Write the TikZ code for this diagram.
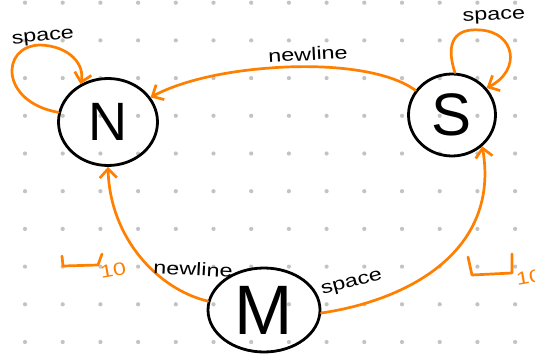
\documentclass[tikz,border=0pt]{standalone}
\usepackage{fontspec}
\setmainfont{Liberation Sans}
\newfontfamily\hand[FakeStretch=1.3]{Liberation Sans}
\usetikzlibrary{shapes.geometric,arrows.meta}
\definecolor{orng}{RGB}{255,128,0}
\definecolor{dotgray}{RGB}{195,195,195}
\begin{document}
\begin{tikzpicture}[x=1pt,y=-1pt,
  state/.style={draw=black, line width=2.8pt, ellipse, inner sep=0pt},
  edge/.style={draw=orng, line width=2.7pt, line cap=round, line join=round,
    -{Straight Barb[length=9pt,width=17pt]}},
  lbl/.style={font=\hand\fontsize{18}{18}\selectfont, inner sep=1pt},
  tick/.style={draw=orng, line width=2.7pt, line cap=round, line join=round},
  ticklbl/.style={text=orng, font=\hand\fontsize{18}{18}\selectfont, inner sep=0pt}]
\useasboundingbox (0,0) rectangle (535,358);
\fill[white] (0,0) rectangle (535,358);
% dot grid
\foreach \i in {0,...,13}
  \foreach \j in {0,...,9}
    \fill[dotgray] ({25+37.7*\i},{2.7+37.7*\j}) circle (2.1pt);
% states
\node[state, minimum width=99pt, minimum height=87pt] (N) at (108,122)
  {\fontsize{54}{54}\selectfont N};
\node[state, minimum width=87pt, minimum height=82pt] (S) at (452,115)
  {\fontsize{60}{60}\selectfont S};
\node[state, minimum width=112pt, minimum height=84pt] (M) at (264,310)
  {\fontsize{70}{70}\selectfont M};
% edges
\draw[edge] (S.146) .. controls (385,68) and (320,64) .. (270,68)
  .. controls (215,72) and (175,84) .. (N.30);
\node[lbl, rotate=3] (l1) at (308,54) {newline};
\draw[edge] (N.169) .. controls (0,102) and (0,46) .. (40,45)
  .. controls (70,46) and (85,65) .. (N.126);
\node[lbl, rotate=6] (l2) at (43,38) {space};
\draw[edge] (S.86) .. controls (445,42) and (455,28) .. (480,30)
  .. controls (515,32) and (522,70) .. (S.38);
\node[lbl, rotate=3] (l3) at (494,17) {space};
\draw[edge] (M.171) .. controls (160,290) and (110,240) .. (N.270);
\node[lbl, rotate=-3] (l4) at (193,269) {newline};
\draw[edge] (M.-3) .. controls (410,300) and (500,250) .. (S.-46);
\node[lbl, rotate=15] (l5) at (352,284) {space};
% tick marks
\coordinate (a1) at (62,256);
\coordinate (a2) at (63,266);
\coordinate (a3) at (98,265);
\coordinate (a4) at (102,254);
\draw[tick] (a1) -- (a2) -- (a3) -- (a4);
\node[ticklbl, rotate=10] (t1) at (113,270) {10};
\coordinate (b1) at (468,257);
\coordinate (b2) at (472,275);
\coordinate (b3) at (512,273);
\coordinate (b4) at (512,254);
\draw[tick] (b1) -- (b2) -- (b3) -- (b4);
\node[ticklbl, rotate=10] (t2) at (529,277) {10};
\end{tikzpicture}
\end{document}
